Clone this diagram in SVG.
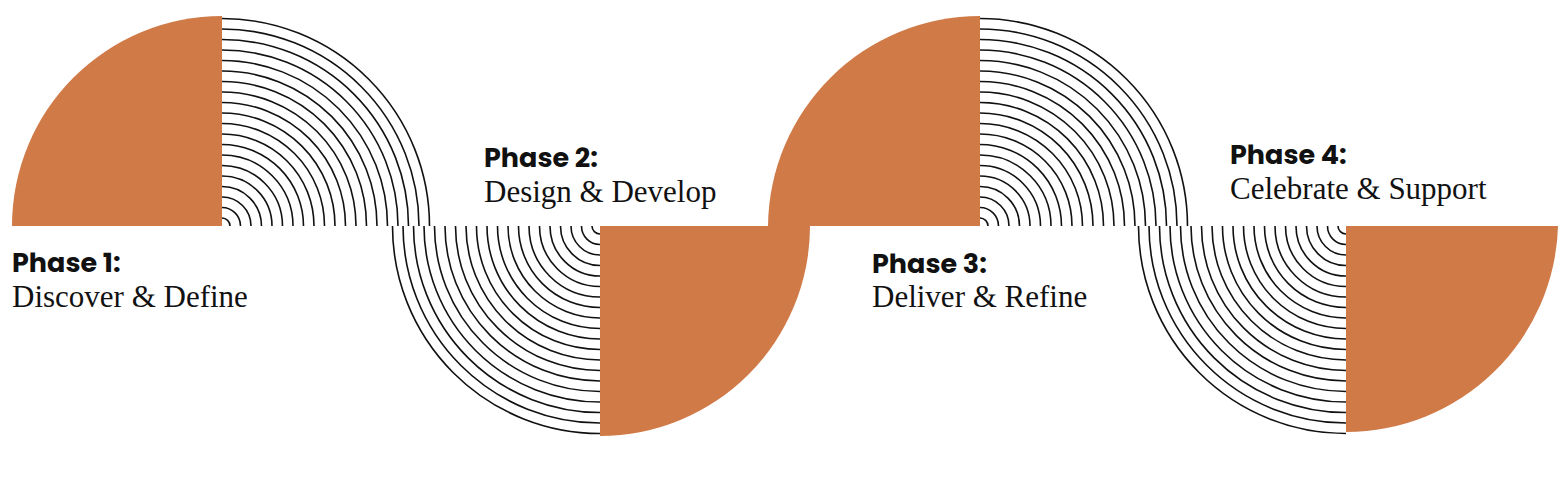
<svg xmlns="http://www.w3.org/2000/svg" width="1565" height="488" viewBox="0 0 1565 488">
<style>
.o{fill:#d07a48}
.a{fill:none;stroke:#111;stroke-width:1.6}
.h{font-family:"Poppins","Inter","Liberation Sans",sans-serif;font-weight:700;font-size:27px;fill:#111}
.s{font-family:"Liberation Serif",serif;font-size:31px;fill:#111}
</style>
<defs>
<g id="arcs">
<path class="a" d="M0,-8A8,8 0 0 1 8,0M0,-18.5A18.5,18.5 0 0 1 18.5,0M0,-29A29,29 0 0 1 29,0M0,-39.5A39.5,39.5 0 0 1 39.5,0M0,-50A50,50 0 0 1 50,0M0,-60.5A60.5,60.5 0 0 1 60.5,0M0,-71A71,71 0 0 1 71,0M0,-81.5A81.5,81.5 0 0 1 81.5,0M0,-92A92,92 0 0 1 92,0M0,-102.5A102.5,102.5 0 0 1 102.5,0M0,-113A113,113 0 0 1 113,0M0,-123.5A123.5,123.5 0 0 1 123.5,0M0,-134A134,134 0 0 1 134,0M0,-144.5A144.5,144.5 0 0 1 144.5,0M0,-155A155,155 0 0 1 155,0M0,-165.5A165.5,165.5 0 0 1 165.5,0M0,-176A176,176 0 0 1 176,0M0,-186.5A186.5,186.5 0 0 1 186.5,0M0,-197A197,197 0 0 1 197,0M0,-207.5A207.5,207.5 0 0 1 207.5,0"/>
</g>
</defs>
<g id="connectors">
<use href="#arcs" transform="translate(222,226)"/>
<use href="#arcs" transform="translate(600,226) rotate(180)"/>
<use href="#arcs" transform="translate(980,226)"/>
<use href="#arcs" transform="translate(1346,226) rotate(180)"/>
</g>
<g id="phase1">
<path class="o" d="M222,226H12A210,210 0 0 1 222,16Z"/>
<text class="h" x="12" y="272">Phase 1:</text>
<text class="s" x="12" y="307">Discover &amp; Define</text>
</g>
<g id="phase2">
<path class="o" d="M600,226H810A210,210 0 0 1 600,436Z"/>
<text class="h" x="484" y="167">Phase 2:</text>
<text class="s" x="484" y="202">Design &amp; Develop</text>
</g>
<g id="phase3">
<path class="o" d="M980,226H768A212,212 0 0 1 980,16Z"/>
<text class="h" x="872" y="273">Phase 3:</text>
<text class="s" x="872" y="307">Deliver &amp; Refine</text>
</g>
<g id="phase4">
<path class="o" d="M1346,226H1558A212,212 0 0 1 1346,432Z"/>
<text class="h" x="1230" y="164">Phase 4:</text>
<text class="s" x="1230" y="199">Celebrate &amp; Support</text>
</g>
</svg>
